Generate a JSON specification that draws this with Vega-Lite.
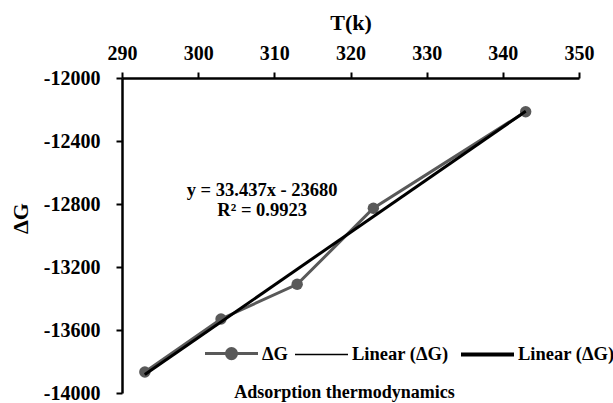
{
  "$schema": "https://vega.github.io/schema/vega-lite/v6.json",
  "width": 457,
  "height": 315,
  "autosize": {"type": "none"},
  "padding": {"left": 122, "top": 78, "right": 34, "bottom": 10},
  "background": "white",
  "title": {
    "text": "Adsorption thermodynamics",
    "orient": "bottom",
    "frame": "group",
    "offset": -19,
    "dx": -6,
    "font": "Liberation Serif",
    "fontSize": 18,
    "fontWeight": "bold",
    "color": "black"
  },
  "datasets": {
    "obs": [
      {"T": 293, "G": -13867, "s": "dG"},
      {"T": 303, "G": -13530, "s": "dG"},
      {"T": 313, "G": -13310, "s": "dG"},
      {"T": 323, "G": -12827, "s": "dG"},
      {"T": 343, "G": -12214, "s": "dG"}
    ],
    "trend": [
      {"T": 293, "G": -13883, "s": "lin1"},
      {"T": 343, "G": -12211, "s": "lin1"},
      {"T": 293, "G": -13883, "s": "lin2"},
      {"T": 343, "G": -12211, "s": "lin2"}
    ],
    "eq": [
      {"T": 308.4, "G": -12711, "label": "y = 33.437x - 23680"},
      {"T": 308.4, "G": -12838, "label": "R² = 0.9923"}
    ]
  },
  "config": {
    "view": {"stroke": null},
    "font": "Liberation Serif",
    "axis": {
      "grid": false,
      "domainColor": "black",
      "domainWidth": 2.5,
      "tickColor": "black",
      "tickWidth": 2,
      "tickSize": 6,
      "labelFont": "Liberation Serif",
      "labelFontSize": 20,
      "labelFontWeight": "bold",
      "labelColor": "black",
      "titleFont": "Liberation Serif",
      "titleFontSize": 22,
      "titleFontWeight": "bold",
      "titleColor": "black"
    }
  },
  "layer": [
    {
      "data": {"name": "obs"},
      "mark": {"type": "line", "strokeWidth": 3, "point": {"filled": true, "size": 130}},
      "encoding": {
        "x": {
          "field": "T", "type": "quantitative",
          "scale": {"domain": [290, 350], "nice": false, "zero": false},
          "axis": {
            "orient": "top", "title": "T(k)",
            "values": [290, 300, 310, 320, 330, 340, 350],
            "labelPadding": 9, "titlePadding": 9, "labelFlush": false
          }
        },
        "y": {
          "field": "G", "type": "quantitative",
          "scale": {"domain": [-14000, -12000], "nice": false, "zero": false},
          "axis": {
            "title": "ΔG",
            "values": [-14000, -13600, -13200, -12800, -12400, -12000],
            "labelExpr": "datum.value + ''",
            "labelPadding": 16,
            "titleX": -102, "titleY": 140, "titleBaseline": "middle", "titleAngle": -90
          }
        },
        "color": {
          "field": "s", "type": "nominal",
          "scale": {"domain": ["dG", "lin1", "lin2"], "range": ["#595959", "black", "black"]},
          "legend": {
            "orient": "none", "legendX": 83, "legendY": 266, "direction": "horizontal",
            "title": null,
            "labelExpr": "datum.value == 'dG' ? 'ΔG' : 'Linear (ΔG)'",
            "labelFont": "Liberation Serif", "labelFontSize": 18.5, "labelFontWeight": "bold", "labelColor": "black",
            "symbolSize": 2809, "symbolType": "stroke", "labelOffset": 4, "columnPadding": 4, "padding": 0,
            "encode": {
              "symbols": {
                "update": {
                  "x": {"value": 26.5},
                  "shape": {"signal": "datum.value == 'dG' ? 'M-1,0H1M0.19,0A0.19,0.19,0,1,1,-0.19,0A0.19,0.19,0,1,1,0.19,0Z' : 'stroke'"},
                  "strokeWidth": {"signal": "datum.value == 'dG' ? 3 : datum.value == 'lin1' ? 1.5 : 4"},
                  "fill": {"signal": "datum.value == 'dG' ? '#595959' : 'transparent'"},
                  "stroke": {"signal": "datum.value == 'dG' ? '#595959' : 'black'"},
                  "opacity": {"value": 1}
                }
              },
              "labels": {
                "update": {
                  "x": {"value": 57}
                }
              }
            }
          }
        }
      }
    },
    {
      "data": {"name": "trend"},
      "transform": [{"filter": "datum.s == 'lin1'"}],
      "mark": {"type": "line", "strokeWidth": 1.5},
      "encoding": {
        "x": {"field": "T", "type": "quantitative"},
        "y": {"field": "G", "type": "quantitative"},
        "color": {"field": "s", "type": "nominal"}
      }
    },
    {
      "data": {"name": "trend"},
      "transform": [{"filter": "datum.s == 'lin2'"}],
      "mark": {"type": "line", "strokeWidth": 3},
      "encoding": {
        "x": {"field": "T", "type": "quantitative"},
        "y": {"field": "G", "type": "quantitative"},
        "color": {"field": "s", "type": "nominal"}
      }
    },
    {
      "data": {"name": "eq"},
      "mark": {"type": "text", "font": "Liberation Serif", "fontSize": 18.5, "fontWeight": "bold", "color": "black", "align": "center", "baseline": "middle"},
      "encoding": {
        "x": {"field": "T", "type": "quantitative"},
        "y": {"field": "G", "type": "quantitative"},
        "text": {"field": "label"}
      }
    }
  ]
}
